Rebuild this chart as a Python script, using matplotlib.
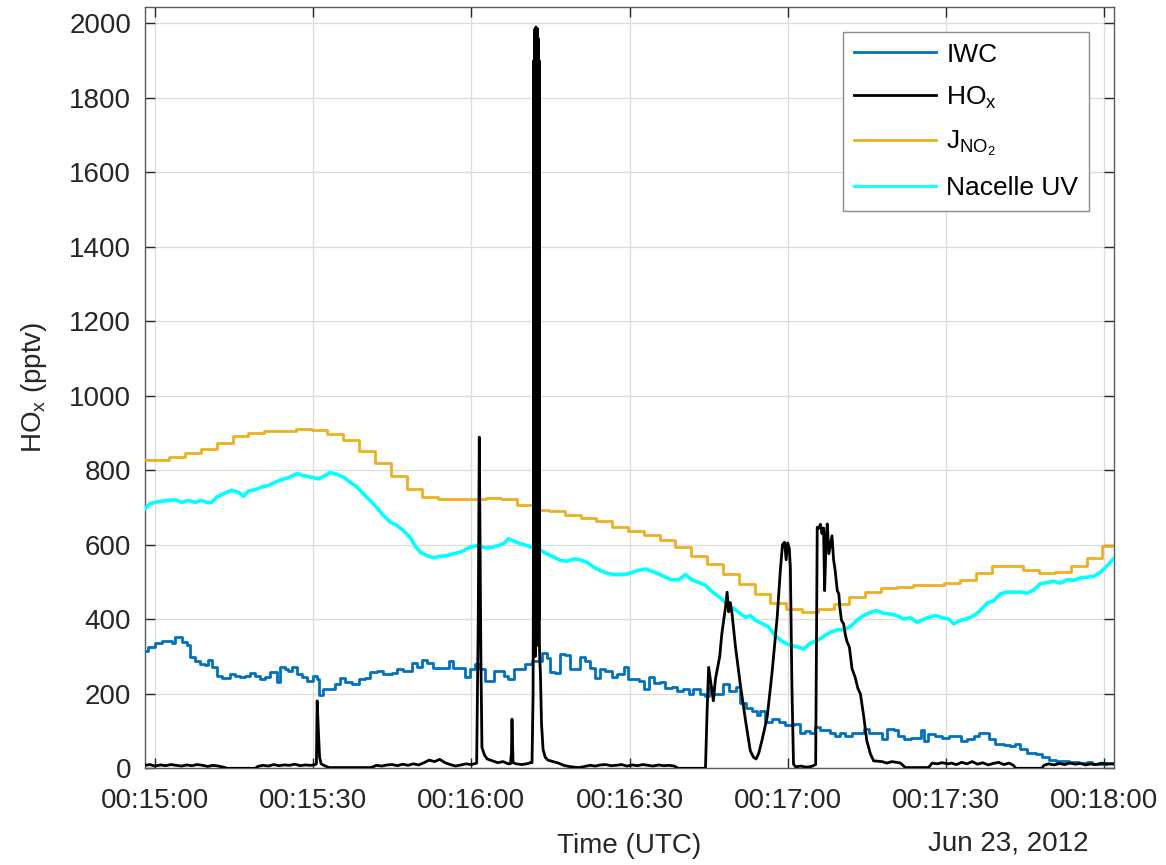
import numpy as np
import matplotlib
matplotlib.use("Agg")
import matplotlib.pyplot as plt
import matplotlib.dates as mdates

# seconds after 00:15:00 UTC, 23 Jun 2012
T0 = np.datetime64("2012-06-23T00:15:00")

iwc_t = [-1.9, -1.27, 0, 1.27, 2.53, 3.16, 3.8, 4.43, 5.06, 6.0, 6.64, 7.59, 8.54, 9.49, 10.1,
         10.8, 11.7, 12.7, 13.6, 14.2, 15.2, 16.1, 17.1, 18.0, 19.0, 19.9, 20.9, 21.8, 22.4,
         23.1, 23.7, 24.7, 25.3, 25.9, 26.9, 27.8, 28.8, 30.0, 30.7, 31.0, 31.9, 33.2, 34.2,
         35.1, 36.1, 37.3, 38.6, 39.8, 40.8, 42.1, 43.3, 44.9, 45.9, 47.1, 48.7, 49.7, 50.6,
         51.6, 52.8, 54.4, 55.7, 56.6, 57.9, 58.7, 59.8, 60.7, 61.7, 62.6, 63.6, 64.2, 65.1,
         66.1, 67.0, 68.0, 69.3, 70.2, 71.5, 73.4, 74.3, 75.0, 75.9, 76.9, 77.8, 78.7, 79.7,
         80.6, 81.6, 82.5, 83.5, 84.4, 85.4, 86.7, 87.6, 88.9, 89.8, 91.7, 92.7, 93.6, 94.6,
         95.8, 96.8, 98.0, 99.0, 100.2, 101.2, 102.1, 103.4, 104.4, 105.0, 105.9, 106.9, 107.8,
         108.8, 110.1, 111.0, 112.0, 113.2, 114.2, 114.8, 115.7, 117.0, 118.3, 119.5, 121.1,
         122.4, 123.3, 124.3, 125.2, 126.2, 128.1, 129.0, 130.0, 130.9, 132.2, 133.5, 134.4,
         135.4, 136.9, 137.9, 138.8, 140.1, 141.0, 142.0, 143.3, 144.5, 145.2, 145.8, 146.7,
         148.0, 149.3, 150.5, 151.5, 152.8, 154.0, 155.3, 156.2, 157.2, 158.1, 159.4, 161.0,
         162.2, 163.2, 164.1, 165.4, 167.0, 168.3, 169.5, 170.8, 172.1, 173.3, 175.2, 176.8,
         177.7, 179.0, 180.3, 181.8]
iwc_v = [316, 325, 336, 343, 343, 336, 353, 353, 339, 332, 298, 289, 280, 276, 291,
         271, 249, 242, 242, 253, 249, 244, 249, 256, 249, 240, 244, 258, 258,
         231, 271, 267, 260, 271, 253, 246, 235, 249, 240, 198, 213, 213, 226,
         242, 231, 226, 240, 242, 258, 260, 253, 256, 267, 260, 282, 273, 291,
         284, 268, 268, 289, 268, 268, 244, 267, 280, 267, 235, 235, 260, 262,
         249, 240, 267, 267, 280, 289, 309, 296, 258, 256, 307, 305, 267, 267,
         298, 289, 269, 242, 267, 260, 246, 253, 273, 240, 233, 213, 246, 228,
         231, 215, 218, 208, 213, 199, 213, 199, 195, 217, 199, 199, 226,
         208, 217, 174, 163, 155, 144, 155, 123, 132, 123, 117, 118,
         96, 99, 96, 110, 102, 96, 87, 96, 87, 94, 96, 105,
         96, 96, 78, 105, 102, 87, 78, 80, 82, 102, 74, 92,
         87, 82, 87, 87, 72, 78, 87, 94, 94, 78, 65, 63,
         60, 65, 52, 42, 38, 31, 22, 20, 20, 16, 14, 18,
         11, 11, 14, 11]

hox_t = [-1.9, -1, 0, 1, 2, 3, 4, 5, 6, 7, 8, 9, 10, 11, 12, 13, 13.7, 19.0, 19.5, 20.5,
         21.5, 22.5, 23.5, 24.5, 25.5, 26.5, 27.5, 28.5, 29.5, 30.4, 30.6, 30.75, 30.95, 31.2,
         31.5, 32, 33, 41, 42, 43, 44, 45, 46, 47, 48, 49, 50, 51, 52, 53, 54, 55, 56, 57,
         58, 59, 60, 61, 61.3, 61.5, 61.8, 62, 62.5, 63, 64, 65, 66, 67, 67.4, 67.6, 67.7,
         67.9, 68.5, 69.5, 70.5, 71.2, 71.5, 71.7, 71.8, 71.85, 71.9, 71.95, 72.0, 72.05,
         72.1, 72.15, 72.2, 72.25, 72.3, 72.35, 72.4, 72.45, 72.5, 72.55, 72.6, 72.65, 72.7,
         72.75, 72.8, 72.85, 72.9, 72.95, 73.1, 73.3, 73.6, 74, 74.5, 75.5, 76.5,
         77.5, 78.5, 79.5, 80.5, 81.5, 82.5, 83.5, 84.5, 85.5, 86.5, 87.5, 88.5, 89.5, 90.5,
         91.5, 92.5, 93.5, 94.5, 95.5, 96.5, 97.5, 98.5, 99.2, 104.4, 104.7, 105.0, 105.5,
         105.9, 106.3, 106.6, 107.1, 107.5, 108.2, 108.5, 108.8, 109.1, 109.4, 110.1, 111.0,
         112.0, 112.9, 113.5, 114.0, 114.5, 115.1, 116.1, 117.0, 118.0, 118.6, 119.0, 119.4,
         119.7, 120.0, 120.3, 120.5, 120.8, 121.1, 121.5, 122.5, 123.5, 124.5, 125.3, 125.6,
         125.9, 126.2, 126.5, 126.8, 127.0, 127.3, 127.5, 127.8, 128.1, 128.4, 128.7, 129.0,
         129.4, 129.7, 129.9, 130.2, 130.6, 130.9, 131.2, 131.7, 132.2, 132.8, 133.3, 133.8,
         134.4, 135.0, 135.7, 136.3, 137.9, 138.8, 139.8, 141.4, 142.0, 142.3, 146.7, 147.4,
         148.3, 149.3, 150.5, 151, 152, 153, 154, 155, 156, 157, 158, 159, 160, 161, 162,
         162.8, 163.3, 168.2, 168.6, 169.5, 170.5, 171.5, 172.5, 173.5, 174.5, 175.5, 176.5,
         177.5, 178.5, 179.5, 180.5, 181.8]
hox_v = [8, 10, 6, 9, 7, 10, 8, 6, 9, 7, 10, 8, 5, 8, 6, 3, 0, 0, 5, 8,
         6, 10, 7, 9, 8, 11, 7, 9, 8, 10, 12, 181, 110, 30,
         12, 8, 2, 2, 8, 6, 9, 10, 7, 11, 8, 12, 9, 15, 22, 18, 24, 15, 10, 6,
         9, 12, 10, 14, 400, 889, 300, 56, 35, 25, 20, 15, 18, 12, 12, 40, 132,
         15, 12, 10, 12, 15, 15, 200, 700, 1900, 350, 1960, 420, 1985,
         300, 1975, 500, 1990, 380, 1980, 600, 1970, 330, 1985, 450, 1960, 700,
         1950, 400, 1900, 350, 300, 250, 120, 50, 30, 22, 18, 14,
         8, 5, 3, 2, 5, 8, 6, 9, 10, 7, 8, 10, 6, 9,
         7, 10, 8, 6, 9, 7, 8, 6, 0, 0, 150, 271, 220,
         181, 240, 262, 300, 361, 432, 473, 420, 445, 420, 325, 226,
         128, 47, 30, 25, 40, 74, 137, 253, 405, 531, 600, 607,
         560, 605, 590, 540, 217, 11, 4, 6, 3, 5, 10, 647,
         645, 655, 630, 645, 477, 620, 656, 576, 600, 624, 560, 531,
         477, 468, 430, 397, 388, 361, 342, 325, 267, 244, 215, 199,
         141, 74, 38, 20, 18, 14, 18, 14, 6, 2, 2, 14,
         12, 15, 12, 14, 10, 16, 12, 18, 11, 15, 9, 13, 16, 10, 14,
         8, 0, 0, 8, 12, 9, 13, 10, 14, 11, 13, 9,
         12, 10, 14, 11, 12]

# J_NO2 updates every 3 s
jno2_t = np.concatenate([[-1.9], np.arange(2.7, 180.0, 3.0)])
jno2_v = [827, 837, 847, 858, 874, 892, 901, 906, 906, 910, 909, 898, 880, 853, 819, 786,
          750, 728, 723, 724, 724, 725, 723, 708, 694, 692, 681, 672, 663, 649, 638, 627,
          613, 594, 571, 549, 522, 495, 468, 443, 427, 419, 428, 441, 459, 473, 483, 486,
          491, 493, 497, 506, 524, 542, 542, 531, 525, 528, 542, 564, 597]

uv_t = [-1.9, -0.95, 0, 1.27, 2.53, 3.8, 5.06, 6.3, 7.6, 8.8, 9.8, 10.8, 11.7, 13.3, 14.5,
        15.8, 16.8, 17.7, 19.0, 20.2, 21.5, 22.8, 24.0, 25.3, 26.9, 28.1, 29.4, 31.0, 32.3,
        33.2, 34.5, 35.7, 37.0, 38.3, 39.5, 40.8, 42.1, 43.3, 44.6, 45.9, 47.1, 48.4, 49.3,
        50.3, 51.6, 52.8, 54.1, 55.4, 56.6, 57.9, 59.1, 60.1, 61.3, 62.6, 63.9, 65.1, 66.1,
        67.0, 68.0, 69.3, 70.5, 71.8, 73.1, 74.3, 75.6, 76.9, 78.1, 79.4, 80.6, 81.9, 83.2,
        84.4, 85.7, 87.0, 88.2, 89.8, 90.5, 91.7, 93.0, 94.2, 95.5, 96.8, 98.0, 99.3, 100.6,
        101.8, 103.1, 104.4, 105.6, 106.9, 108.2, 109.4, 110.7, 112.0, 112.9, 113.9, 115.1,
        116.4, 117.6, 118.9, 120.2, 120.8, 122.1, 123.0, 124.3, 125.6, 126.8, 128.1, 129.4,
        130.6, 131.9, 133.1, 134.4, 135.7, 136.9, 138.2, 139.5, 140.7, 142.0, 143.3, 144.5,
        145.5, 146.7, 148.0, 149.3, 150.5, 151.5, 152.8, 154.0, 155.3, 156.5, 157.8, 159.1,
        160.3, 161.6, 162.9, 164.1, 165.4, 166.7, 167.9, 169.2, 170.5, 171.7, 173.0, 174.3,
        175.5, 176.8, 178.0, 179.3, 180.6, 181.8]
uv_v = [697, 710, 714, 717, 719, 721, 714, 719, 714, 719, 714, 714, 728, 739, 746,
        741, 730, 744, 748, 755, 759, 768, 775, 780, 791, 786, 782, 777, 786,
        794, 789, 782, 768, 755, 737, 719, 699, 679, 661, 652, 638, 620, 598,
        580, 571, 565, 569, 571, 576, 580, 589, 595, 598, 592, 593, 598, 603,
        616, 610, 603, 598, 592, 585, 576, 567, 558, 556, 562, 560, 553, 540,
        531, 524, 520, 520, 522, 526, 531, 535, 529, 522, 513, 506, 506, 520,
        506, 499, 491, 475, 461, 446, 432, 419, 405, 410, 397, 389,
        379, 356, 341, 332, 329, 325, 320, 336, 343, 354, 365, 372,
        372, 380, 397, 410, 419, 423, 416, 414, 410, 401, 404, 392,
        398, 405, 410, 404, 401, 388, 397, 401, 410, 423, 443, 450,
        468, 473, 473, 473, 470, 479, 495, 499, 502, 497, 506, 505,
        511, 513, 515, 526, 544, 562]


def to_time(sec):
    return T0 + (np.asarray(sec, dtype=float) * 1000).astype("timedelta64[ms]")


plt.rcParams.update({
    "font.family": ["Liberation Sans", "DejaVu Sans"],
    "font.size": 20,
    "mathtext.fontset": "custom",
    "mathtext.rm": "Liberation Sans",
    "mathtext.it": "Liberation Sans:italic",
    "mathtext.bf": "Liberation Sans:bold",
})

TXT = "#262626"
fig = plt.figure(figsize=(11.66, 8.65), dpi=100)
ax = fig.add_axes([0.1244, 0.1118, 0.8306, 0.8798])

LW = 2.0
ax.plot(to_time(iwc_t), iwc_v, color="#0072BD", lw=LW, drawstyle="steps-post",
        label="IWC", zorder=3)
ax.plot(to_time(hox_t), hox_v, color="black", lw=LW, label=r"HO$_{\rm x}$", zorder=6)
jt = np.append(jno2_t, 181.8)
jv = list(jno2_v) + [jno2_v[-1]]
ax.plot(to_time(jt), jv, color="#EDB120", lw=LW, drawstyle="steps-post",
        label=r"J$_{\mathrm{NO}_2}$", zorder=4)
ax.plot(to_time(uv_t), uv_v, color="#00FFFF", lw=2.6, label="Nacelle UV", zorder=5)

ax.set_xlim(to_time(-1.9), to_time(181.8))
ax.set_ylim(0, 2043)
ax.set_yticks(np.arange(0, 2001, 200))
ax.set_xticks(to_time(np.arange(0, 181, 30)))
ax.xaxis.set_major_formatter(mdates.DateFormatter("%H:%M:%S"))

ax.grid(True, color="#dcdcdc", lw=0.9)
ax.set_axisbelow(True)
for s in ax.spines.values():
    s.set_color("#5a5a5a")
    s.set_linewidth(1.0)
ax.tick_params(direction="in", length=7, width=1, colors=TXT, labelsize=20,
               top=True, right=True)
ax.tick_params(axis="x", pad=14)
ax.tick_params(axis="y", pad=10)

ax.set_ylabel(r"HO$_{\rm x}$ (pptv)", fontsize=20, color=TXT)
ax.yaxis.set_label_coords(-0.099, 0.5)
ax.set_xlabel("Time (UTC)", fontsize=20, color=TXT)
ax.xaxis.set_label_coords(0.5, -0.085)
fig.text(1088 / 1166, 1 - 843 / 865, "Jun 23, 2012", fontsize=20, color=TXT,
         ha="right", va="center")

leg = ax.legend(loc="upper right", bbox_to_anchor=(0.975, 0.968), borderaxespad=0,
                fontsize=19, fancybox=False, framealpha=1, edgecolor="#8c8c8c",
                handlelength=3.1, handletextpad=0.4, labelspacing=0.68, borderpad=0.42)
leg.get_frame().set_linewidth(1.0)
for h in leg.get_lines():
    h.set_linewidth(2.0)

fig.savefig("out.png", dpi=100, facecolor="white")
